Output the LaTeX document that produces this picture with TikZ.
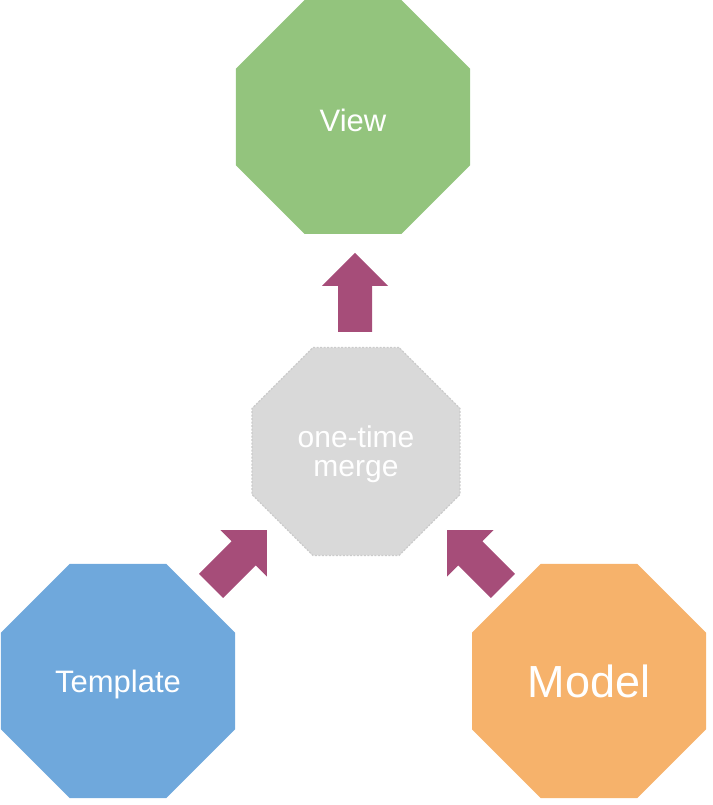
\documentclass[tikz,border=0pt]{standalone}
\usepackage{fontspec}
\setmainfont{Liberation Sans}
\usetikzlibrary{shapes.geometric}
\definecolor{vgreen}{HTML}{93C47D}
\definecolor{tblue}{HTML}{6FA8DC}
\definecolor{morange}{HTML}{F6B26B}
\definecolor{mgray}{HTML}{D9D9D9}
\definecolor{mgrayline}{HTML}{CBCBCB}
\definecolor{arrowc}{HTML}{A64D79}
\begin{document}
\begin{tikzpicture}[x=1pt,y=1pt,
  octa/.style={regular polygon, regular polygon sides=8, inner sep=0pt, outer sep=0pt,
    text=white, align=center},
  bigocta/.style={octa, minimum size=253.3pt},
  midocta/.style={octa, minimum size=225.1pt, draw=mgrayline, line width=1.2pt,
    dash pattern=on 2pt off 1.5pt, fill=mgray},
  blockarrow/.style={fill=arrowc, draw=none}]
\useasboundingbox (0,0) rectangle (712,805);
\node[bigocta, fill=vgreen, text height=30pt, text depth=0pt, font=\fontsize{31}{34}\selectfont] (view) at (353,688) {View};
\node[midocta, text depth=0pt, font=\fontsize{30}{29}\selectfont] (merge) at (356,353.5) {one-time\\merge};
\node[bigocta, fill=tblue, text depth=0pt, font=\fontsize{31}{34}\selectfont] (template) at (118,124) {Template};
\node[bigocta, fill=morange, font=\fontsize{45}{50}\selectfont] (model) at (589,124) {Model};
\foreach \nm/\px/\py/\ang in {up/355/473/90, left/211.1/219.1/45, right/502.9/219.1/135}{
  \begin{scope}[shift={(\px,\py)}, rotate=\ang]
    \coordinate (\nm tail) at (0,0);
    \coordinate (\nm tip) at (79,0);
    \fill[blockarrow] (\nm tail) ++(0,-17) -- ++(46,0) -- ++(0,-16) -- (\nm tip)
      -- ++(-33,33) -- ++(0,-16) -- ++(-46,0) -- cycle;
  \end{scope}
}
\end{tikzpicture}
\end{document}
